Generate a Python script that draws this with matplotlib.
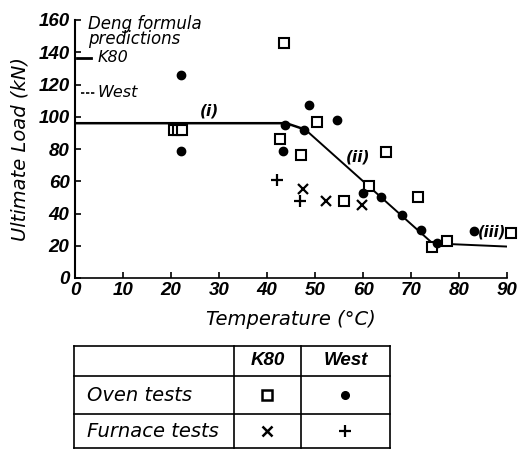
import numpy as np
import matplotlib
matplotlib.use('Agg')
import matplotlib.pyplot as plt

plt.rcParams['font.family'] = ['DejaVu Sans']
tick_font = 'Liberation Sans'

# Oven tests, K80 (open squares)
k80_oven_t = [20.6, 21.4, 22.2, 43.5, 50.5, 42.8, 47.1, 56.0, 61.3, 64.7, 71.4, 74.4, 77.5, 90.8]
k80_oven_load = [92, 92, 92, 146, 97, 86, 76, 48, 57, 78, 50, 19, 23, 28]

# Oven tests, West (filled circles)
west_oven_t = [22.0, 22.0, 48.7, 54.5, 43.7, 47.8, 43.4, 60.1, 63.8, 68.1, 72.1, 75.5, 83.2]
west_oven_load = [126, 79, 107, 98, 95, 92, 79, 53, 50, 39, 30, 22, 29]

# Furnace tests, K80 (x)
k80_furn_t = [47.4, 52.3, 59.7]
k80_furn_load = [55, 48, 45]

# Furnace tests, West (+)
west_furn_t = [42.1, 46.8]
west_furn_load = [61, 48]

# fitted trend (i), (ii), (iii)
fit_t = [0, 44, 48, 74.5, 90]
fit_load = [96, 96, 92, 21.5, 19.5]

# Deng formula predictions
deng_k80 = 136.5
deng_west = 115

fig = plt.figure(figsize=(5.32, 4.53), dpi=100)
ax = fig.add_axes([75/532, 1-278/453, (507-75)/532, (278-20)/453])

ax.plot(fit_t[:3], fit_load[:3], color='black', lw=1.8, zorder=2)
ax.plot(fit_t[2:], fit_load[2:], color='black', lw=1.4, zorder=2)
ax.plot(k80_oven_t, k80_oven_load, 's', ms=7.5, mfc='white', mec='black', mew=1.5, clip_on=False, zorder=3)
ax.plot(west_oven_t, west_oven_load, 'o', ms=6, color='black', clip_on=False, zorder=4)
ax.plot(k80_furn_t, k80_furn_load, 'x', ms=7, color='black', mew=1.6, zorder=3)
ax.plot(west_furn_t, west_furn_load, '+', ms=8, color='black', mew=1.6, zorder=3)

# Deng prediction markers on the y axis
ax.plot([0.4, 3.3], [deng_k80, deng_k80], color='black', lw=2, clip_on=False)
ax.plot([1.2, 4.3], [deng_west, deng_west], color='black', lw=1.2, ls=(0, (2, 1)), clip_on=False)
ax.text(4.6, deng_k80, 'K80', style='italic', fontsize=11.5, va='center')
ax.text(4.6, deng_west, 'West', style='italic', fontsize=11.5, va='center')
ax.text(2.8, 163, 'Deng formula\npredictions', style='italic', fontsize=12,
        va='top', linespacing=0.8)

ax.text(26.0, 101, '(i)', style='italic', fontsize=11, fontweight='bold')
ax.text(56.5, 72, '(ii)', style='italic', fontsize=11, fontweight='bold')
ax.text(84.0, 28.5, '(iii)', style='italic', fontsize=10.5, fontweight='bold', va='center')

ax.set_xlim(0, 90)
ax.set_ylim(0, 160)
ax.set_xticks(np.arange(0, 91, 10))
ax.set_yticks(np.arange(0, 161, 20))
for s in ['top', 'right']:
    ax.spines[s].set_visible(False)
ax.spines['left'].set_linewidth(1.5)
ax.spines['bottom'].set_linewidth(1.2)
ax.tick_params(direction='in', length=4, width=1.2)
ax.tick_params(axis='y', pad=4)
ax.tick_params(axis='x', pad=3)
for lab in ax.get_xticklabels() + ax.get_yticklabels():
    lab.set_family(tick_font)
    lab.set_style('italic')
    lab.set_fontweight('bold')
    lab.set_fontsize(13.5)
ax.set_xlabel('Temperature (°C)', style='italic', fontsize=14, labelpad=8)
ax.set_ylabel('Ultimate Load (kN)', style='italic', fontsize=14, labelpad=6)

# legend table
tab = fig.add_axes([74/532, 1-448/453, (390-74)/532, (448-346)/453])
tab.set_xlim(0, 1)
tab.set_ylim(1, 0)
tab.axis('off')
row_edges = [0, 0.294, 0.667, 1]
col_edges = [0, 0.506, 0.718, 1]
for r in row_edges:
    tab.plot([0, 1], [r, r], color='black', lw=1.2, clip_on=False)
for c in col_edges:
    tab.plot([c, c], [0, 1], color='black', lw=1.2, clip_on=False)

col_mid = [(col_edges[i] + col_edges[i+1]) / 2 for i in range(3)]
row_mid = [(row_edges[i] + row_edges[i+1]) / 2 for i in range(3)]
tab.text(col_mid[1], row_mid[0], 'K80', family=tick_font, style='italic', fontweight='bold',
         fontsize=13.5, ha='center', va='center')
tab.text(col_mid[2], row_mid[0], 'West', family=tick_font, style='italic', fontweight='bold',
         fontsize=13.5, ha='center', va='center')
tab.text(0.04, row_mid[1], 'Oven tests', style='italic', fontsize=14, va='center')
tab.text(0.04, row_mid[2], 'Furnace tests', style='italic', fontsize=14, va='center')
tab.plot(col_mid[1], row_mid[1], 's', ms=6.5, mfc='white', mec='black', mew=1.8)
tab.plot(col_mid[2], row_mid[1], 'o', ms=5.5, color='black')
tab.plot(col_mid[1], row_mid[2], 'x', ms=7, color='black', mew=1.8)
tab.plot(col_mid[2], row_mid[2], '+', ms=9, color='black', mew=1.6)

fig.savefig('out.png', dpi=100)
